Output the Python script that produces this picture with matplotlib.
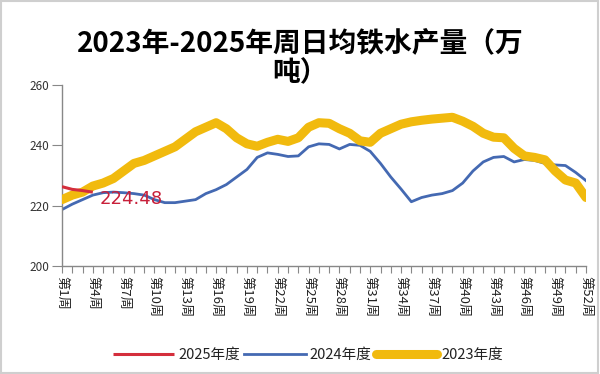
import matplotlib
matplotlib.use("Agg")
import matplotlib.pyplot as plt
from matplotlib.patches import Rectangle
import numpy as np

plt.rcParams['font.family'] = ['Noto Sans CJK SC', 'DejaVu Sans']

weeks = list(range(1, 53))
tick_weeks = list(range(1, 53, 3))
tick_labels = [f"第{w}周" for w in tick_weeks]

y2025 = [226.3, 225.4, 225.0, 224.48]
y2024 = [218.7, 220.5, 222.0, 223.5, 224.3, 224.5, 224.3, 224.0, 223.5, 222.0,
         221.0, 221.0, 221.5, 222.0, 224.0, 225.3, 227.0, 229.5, 232.0, 236.0,
         237.5, 237.0, 236.3, 236.5, 239.5, 240.5, 240.3, 238.8, 240.3, 240.0,
         238.0, 234.0, 229.5, 225.5, 221.3, 222.7, 223.5, 224.0, 225.0, 227.5,
         231.5, 234.5, 236.0, 236.3, 234.5, 235.3, 235.0, 234.0, 233.5, 233.3,
         231.0, 228.3]
y2023 = [222.0, 223.5, 224.5, 226.5, 227.5, 229.0, 231.5, 234.0, 235.0, 236.5,
         238.0, 239.5, 242.0, 244.5, 246.0, 247.5, 245.5, 242.5, 240.5, 239.7,
         241.0, 242.0, 241.3, 242.5, 246.0, 247.5, 247.3, 245.5, 244.0, 241.5,
         241.0, 244.0, 245.5, 247.0, 247.8, 248.3, 248.7, 249.0, 249.3, 248.0,
         246.3, 244.0, 242.7, 242.5, 239.0, 236.5, 236.0, 235.2, 231.5, 228.5,
         227.5, 222.7]
series_names = ["2025年度", "2024年度", "2023年度"]
yticks = [200, 220, 240, 260]
title = "2023年-2025年周日均铁水产量（万\n吨）"

fig = plt.figure(figsize=(6, 3.74), dpi=100)
ax = fig.add_axes([62/600, 1-266/374, 524/600, (266-85)/374])

c_red = '#D42E3C'
c_blue = '#4469B2'
c_yel = '#F1BA0E'

l1, = ax.plot(weeks[:len(y2025)], y2025, color=c_red, lw=2.2, zorder=4, solid_capstyle='butt')
l2, = ax.plot(weeks, y2024, color=c_blue, lw=2.0, zorder=2)
l3, = ax.plot(weeks, y2023, color=c_yel, lw=6.5, zorder=3, solid_capstyle='round')

ax.annotate(f"{y2025[-1]:.2f}", xy=(weeks[len(y2025)-1], y2025[-1]), xytext=(5, -5),
            textcoords='offset points', ha='left', va='center', color='#C8203A',
            fontsize=13, zorder=6, family=['DejaVu Sans'])

ax.set_xlim(1, 52)
ax.set_ylim(200, 260)
ax.set_yticks(yticks)
ax.set_yticklabels([str(v) for v in yticks], fontsize=8.5, color='#333333')
ax.set_xticks(weeks)
ax.set_xticklabels([f"第{w}周" if w in tick_weeks else "" for w in weeks],
                   rotation=-90, fontsize=9.5, color='#222222')
ax.tick_params(axis='x', length=5, width=0.8, color='#888888', pad=2)
ax.tick_params(axis='y', length=7, width=0.8, color='#888888', pad=2)
for s in ['top', 'right']:
    ax.spines[s].set_visible(False)
for s in ['left', 'bottom']:
    ax.spines[s].set_color('#888888')
    ax.spines[s].set_linewidth(1.0)

fig.text(0.5, 1-58/374, title, ha='center', va='center', fontsize=20,
         weight='bold', linespacing=1.1)

leg = fig.legend([l1, l2, l3], series_names, loc='center', ncol=3,
                 bbox_to_anchor=(308/600, 1-355/374), frameon=False,
                 fontsize=10.5, handlelength=4.2, handletextpad=0.3,
                 columnspacing=0.3)
for t in leg.get_texts():
    t.set_color('#222222')

fig.patches.append(Rectangle((0.002, 0.003), 0.995, 0.994, transform=fig.transFigure,
                             fill=False, edgecolor='#cfcfcf', lw=1.5))

fig.savefig("out.png", dpi=100, facecolor='white')
